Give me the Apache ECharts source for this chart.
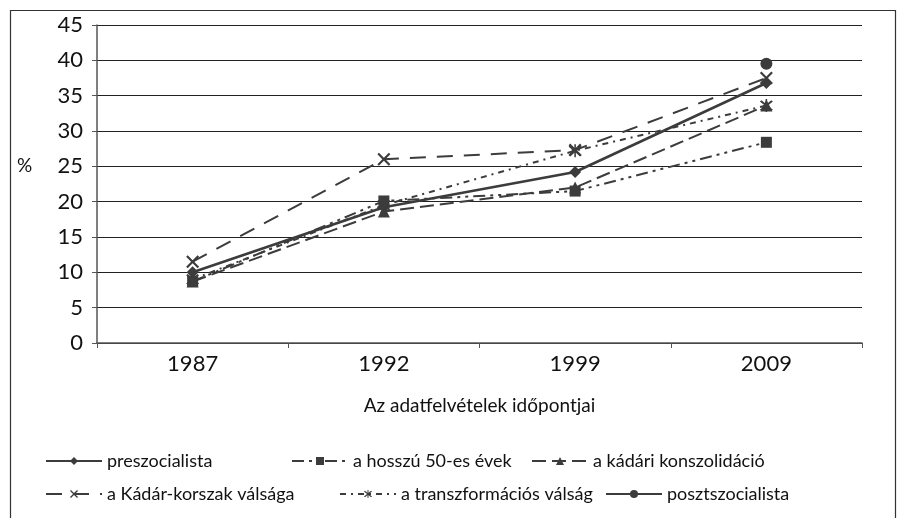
<!DOCTYPE html>
<html><head><meta charset="utf-8">
<script src="https://cdn.jsdelivr.net/npm/echarts@6/dist/echarts.min.js"></script>
<style>html,body{margin:0;padding:0;background:#fff}#c{width:902px;height:518px}</style>
</head><body><div id="c"></div>
<script>
const categories = ['1987', '1992', '1999', '2009'];
const preszocialista = [10, 19.2, 24.2, 36.8];
const hosszu50 = [8.7, 20.1, 21.5, 28.4];
const kadariKonszolidacio = [8.7, 18.6, 22.0, 33.6];
const kadarValsaga = [11.5, 26.0, 27.3, 37.5];
const transzformacios = [9.0, 19.5, 27.2, 33.6];
const posztszocialista = [null, null, null, 39.5];
const yTicks = [0, 5, 10, 15, 20, 25, 30, 35, 40, 45];

const seriesNames = ['preszocialista', 'a hosszú 50-es évek', 'a kádári konszolidáció',
  'a Kádár-korszak válsága', 'a transzformációs válság', 'posztszocialista'];

const C = '#3c3c3c';
const xPath = 'path://M0,1.2 L1.2,0 L5,3.8 L8.8,0 L10,1.2 L6.2,5 L10,8.8 L8.8,10 L5,6.2 L1.2,10 L0,8.8 L3.8,5 Z';
const starPath = 'path://M0,1.2 L1.2,0 L5,3.8 L8.8,0 L10,1.2 L6.2,5 L10,8.8 L8.8,10 L5,6.2 L1.2,10 L0,8.8 L3.8,5 Z M4.4,-1 L5.6,-1 L5.6,11 L4.4,11 Z';

function mk(name, data, symbol, size, type, width) {
  return {
    name, type: 'line', data, symbol, symbolSize: size, showSymbol: true,
    connectNulls: false,
    lineStyle: { color: C, width: width, type: type },
    itemStyle: { color: C },
    emphasis: { disabled: true },
    z: 3
  };
}

const series = [
  mk(seriesNames[0], preszocialista, 'diamond', 12, 'solid', 2.6),
  mk(seriesNames[1], hosszu50, 'rect', 11, [12, 5, 3, 5, 3, 5], 2),
  mk(seriesNames[2], kadariKonszolidacio, 'triangle', 12, [14, 6], 2),
  mk(seriesNames[3], kadarValsaga, xPath, 13, [16, 11], 2),
  mk(seriesNames[4], transzformacios, starPath, 13, [6, 5, 2, 5], 2),
  mk(seriesNames[5], posztszocialista, 'circle', 12, 'solid', 2)
];

const legendPos = [
  [40, 447], [286, 447], [526, 447],
  [40, 480], [334, 480], [600, 480]
];
const legends = seriesNames.map((n, i) => ({
  data: [n], left: legendPos[i][0], top: legendPos[i][1],
  itemWidth: 56, itemHeight: 10, itemGap: 10,
  textStyle: { fontFamily: 'Lato', fontSize: 18, color: '#111' },
  selectedMode: false
}));

const chart = echarts.init(document.getElementById('c'));
chart.setOption({
  animation: false,
  backgroundColor: '#fff',
  grid: { left: 97, right: 40, top: 25, bottom: 175, containLabel: false },
  xAxis: {
    type: 'category', data: categories, boundaryGap: true,
    axisLine: { lineStyle: { color: '#555', width: 1.5 } },
    axisTick: { show: true, length: 5, lineStyle: { color: '#555' } },
    axisLabel: { fontFamily: 'Lato', fontSize: 22, color: '#111', margin: 10 },
    name: 'Az adatfelvételek időpontjai', nameLocation: 'middle', nameGap: 53,
    nameTextStyle: { fontFamily: 'Lato', fontSize: 19, color: '#111' }
  },
  yAxis: {
    type: 'value', min: 0, max: 45, interval: 5,
    axisLine: { show: true, lineStyle: { color: '#555', width: 1.5 } },
    axisTick: { show: true, inside: false, length: 5, lineStyle: { color: '#555' } },
    axisLabel: { fontFamily: 'Lato', fontSize: 22, color: '#111', margin: 14,
      formatter: v => yTicks.includes(v) ? String(v) : '' },
    splitLine: { show: true, lineStyle: { color: '#222', width: 1.2 } }
  },
  legend: legends,
  graphic: [{
    type: 'rect', left: 8, top: 8, silent: true,
    shape: { x: 0, y: 0, width: 885, height: 530 },
    style: { fill: 'none', stroke: '#333', lineWidth: 1.2 }, z: -1
  }, {
    type: 'text', left: 17, top: 156, silent: true,
    style: { text: '%', fontFamily: 'Lato', fontSize: 19, fill: '#111' }
  }],
  series
});
</script></body></html>
